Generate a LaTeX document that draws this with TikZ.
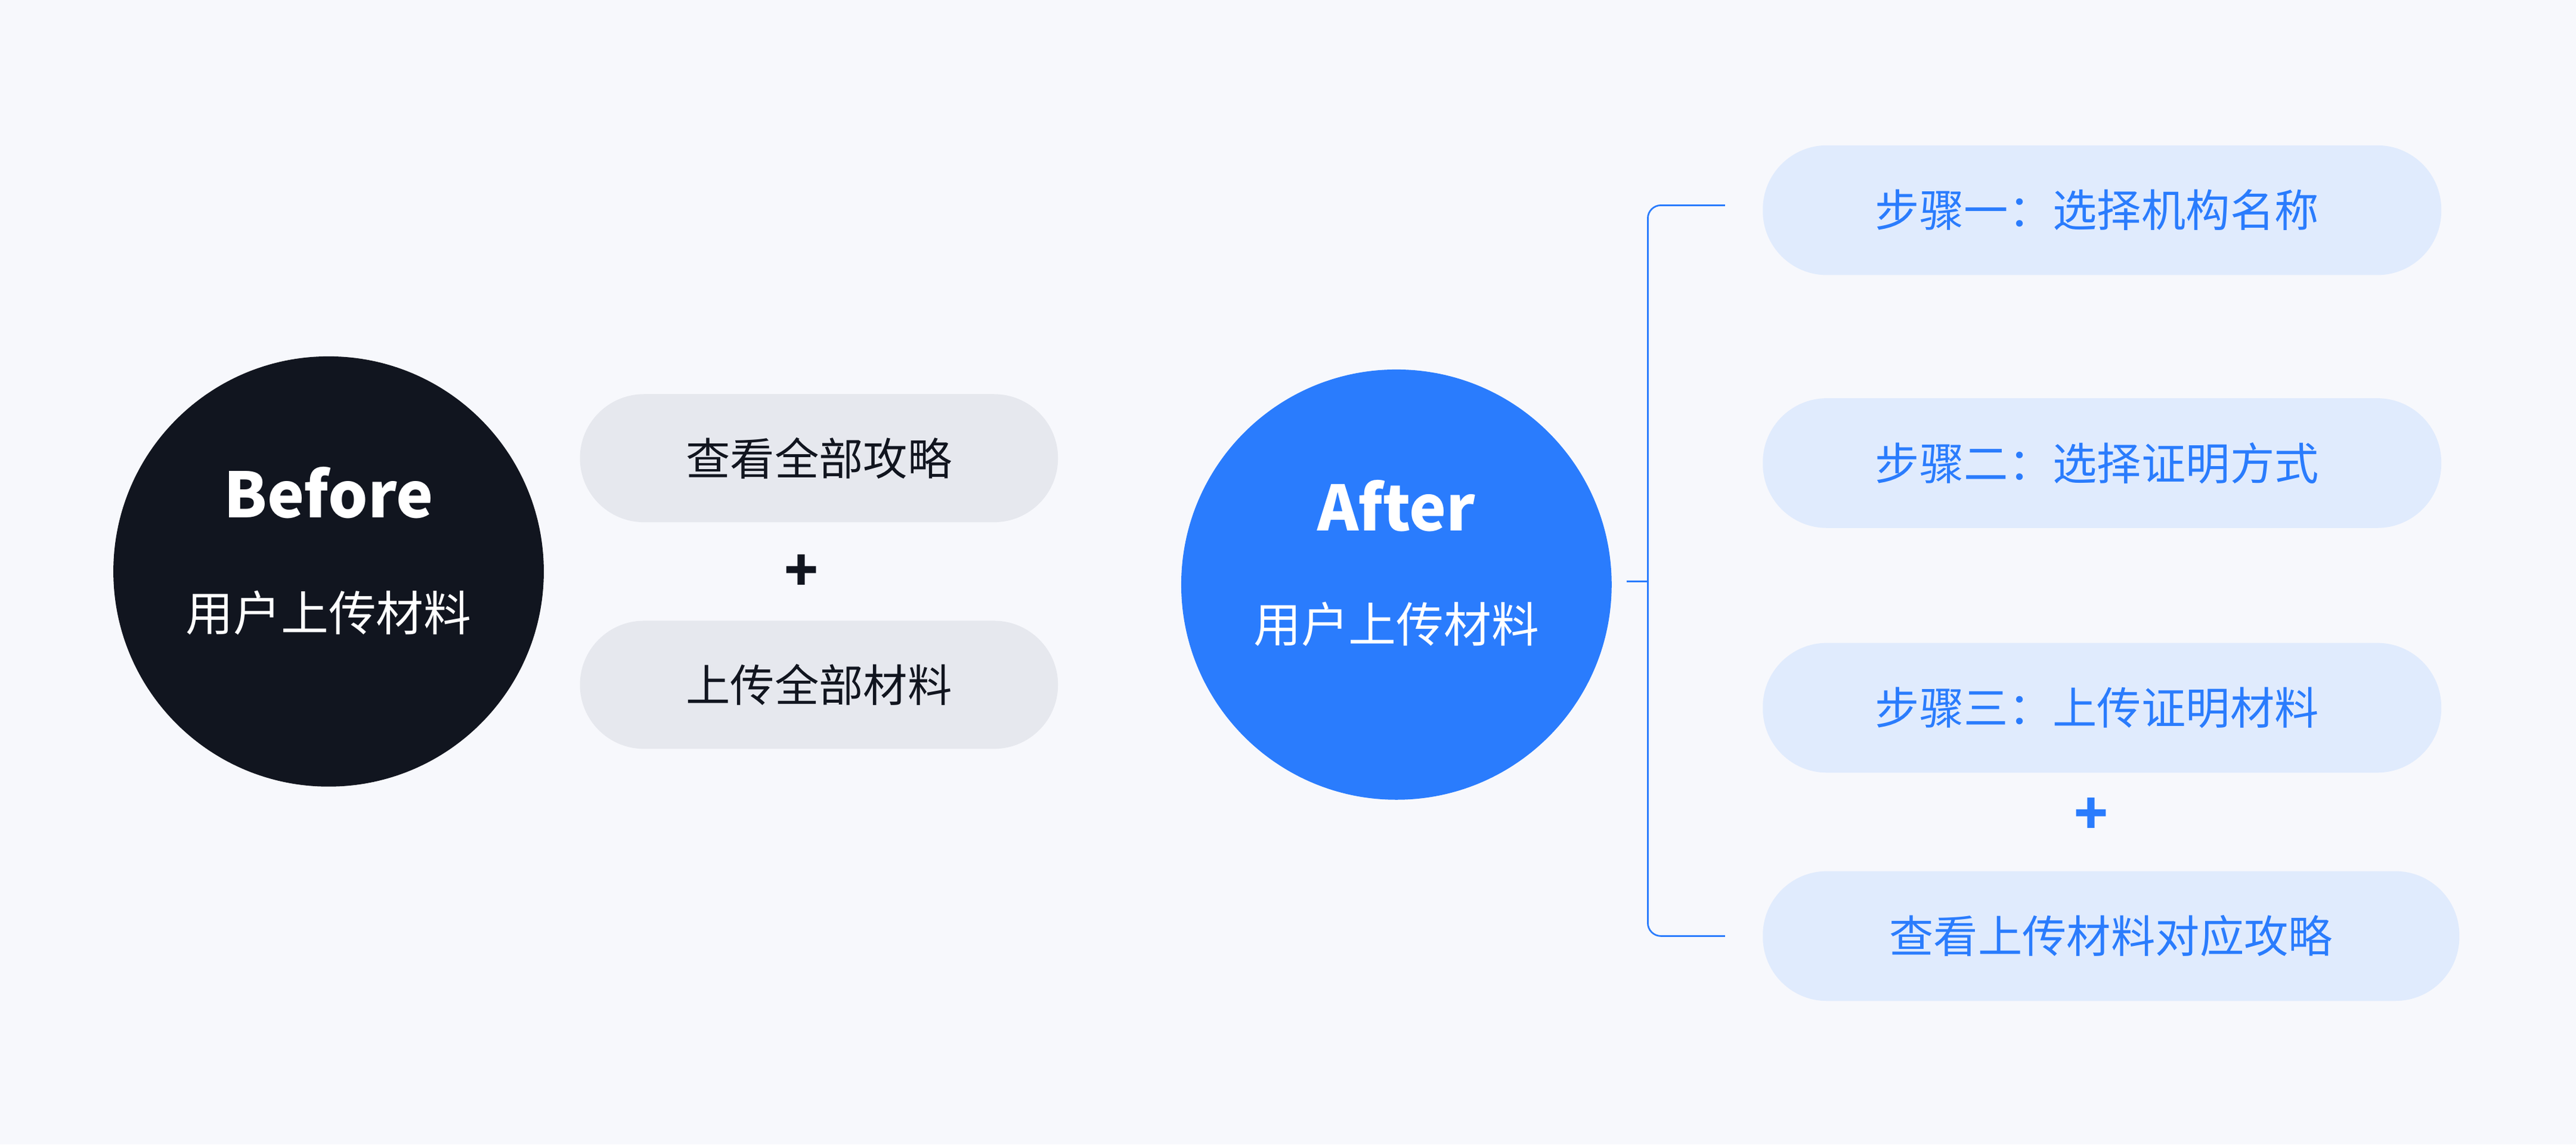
\documentclass[tikz,border=0pt]{standalone}
\usepackage{fontspec}
\setmainfont{Noto Sans CJK SC}
\newfontfamily\cjkb{Noto Sans CJK SC}[FakeBold=1.5]
\definecolor{bg}{HTML}{F7F8FC}
\definecolor{dark}{HTML}{11151F}
\definecolor{blu}{HTML}{2A7CFD}
\definecolor{gpill}{HTML}{E6E8EE}
\definecolor{bpill}{HTML}{E0EBFD}
\begin{document}
\begin{tikzpicture}[x=1pt,y=-1pt,
  circ/.style={circle,minimum size=262pt,inner sep=0pt},
  gp/.style={rounded corners=39pt,fill=gpill,minimum width=291pt,minimum height=78pt,inner sep=0pt,font=\fontsize{27}{27}\selectfont,text=dark},
  bp/.style={rounded corners=39pt,fill=bpill,minimum height=79pt,inner sep=0pt,font=\fontsize{27}{27}\selectfont,text=blu},
  plus/.style={font=\fontsize{34}{34}\selectfont\bfseries}]
\fill[bg] (0,0) rectangle (1568,697);
\useasboundingbox (0,0) rectangle (1568,697);
\node[circ,fill=dark] (before) at (200,348) {};
\node[text=white,font=\fontsize{38}{38}\selectfont\bfseries] (bt) at (200,300) {Before};
\node[text=white,font=\fontsize{29}{29}\selectfont] (bs) at (200,373) {用户上传材料};
\node[gp] (g1) at (498.5,279) {查看全部攻略};
\node[plus,text=dark] (p1) at (488,349) {+};
\node[gp] (g2) at (498.5,417) {上传全部材料};
\node[circ,fill=blu] (after) at (850,356) {};
\node[text=white,font=\fontsize{38}{38}\selectfont\bfseries] (at) at (850,308) {After};
\node[text=white,font=\fontsize{29}{29}\selectfont] (as) at (850,380) {用户上传材料};
\node[bp,minimum width=413pt] (s1) at (1279.5,128) {\hspace*{-6pt}步骤一：选择机构名称};
\node[bp,minimum width=413pt] (s2) at (1279.5,282) {\hspace*{-6pt}步骤二：选择证明方式};
\node[bp,minimum width=413pt] (s3) at (1279.5,431) {\hspace*{-6pt}步骤三：上传证明材料};
\node[plus,text=blu] (p2) at (1273,497) {+};
\node[bp,minimum width=424pt] (s4) at (1285,570) {查看上传材料对应攻略};
\coordinate (t1) at (1050,125);
\coordinate (t2) at (1050,570);
\coordinate (m) at (990,354);
\draw[blu,line width=1pt,rounded corners=8pt] (t1) -- (1003,125) -- (1003,570) -- (t2);
\draw[blu,line width=1pt] (m) -- (1003,354);
\end{tikzpicture}
\end{document}
